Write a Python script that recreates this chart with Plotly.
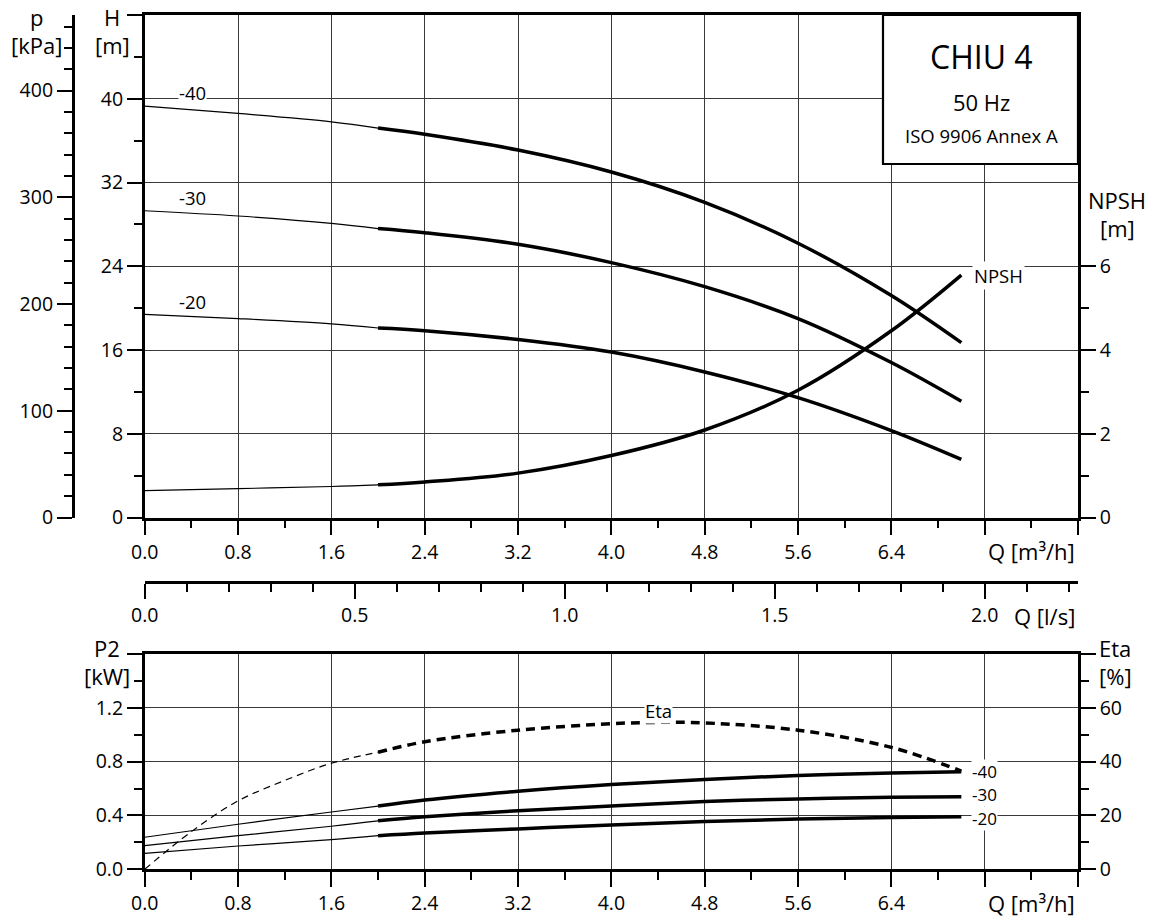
import plotly.graph_objects as go

# ---- pump data: CHIU 4, 50 Hz ----
q_h = [0.0, 0.8, 1.6, 2.0, 2.4, 3.2, 4.0, 4.8, 5.6, 6.4, 7.0]          # m3/h
h_40 = [39.3, 38.6, 37.8, 37.2, 36.6, 35.1, 33.0, 30.1, 26.2, 21.2, 16.7]
h_30 = [29.3, 28.8, 28.1, 27.6, 27.2, 26.1, 24.35, 22.05, 19.0, 14.8, 11.1]
h_20 = [19.4, 19.0, 18.5, 18.1, 17.85, 17.0, 15.8, 13.9, 11.45, 8.3, 5.55]
npsh = [0.64, 0.69, 0.74, 0.78, 0.85, 1.06, 1.48, 2.09, 3.04, 4.46, 5.79]

q_p = [0.0, 0.8, 1.6, 2.0, 2.4, 3.2, 4.0, 4.8, 5.6, 6.4, 7.0]
p2_40 = [0.238, 0.335, 0.426, 0.47, 0.515, 0.58, 0.63, 0.668, 0.698, 0.716, 0.725]
p2_30 = [0.176, 0.25, 0.32, 0.36, 0.39, 0.435, 0.47, 0.503, 0.523, 0.535, 0.54]
p2_20 = [0.119, 0.173, 0.22, 0.25, 0.27, 0.30, 0.33, 0.355, 0.373, 0.385, 0.39]

q_eta = [0.0, 0.4, 0.8, 1.2, 1.6, 2.0, 2.4, 3.2, 4.0, 4.4, 4.8, 5.6, 6.4, 7.0]
eta = [0.0, 14.0, 25.4, 33.0, 39.4, 43.5, 47.4, 51.7, 54.1, 54.6, 54.4, 51.7, 45.3, 36.5]

series_labels = ["-40", "-30", "-20"]
q_ticks = [0.0, 0.8, 1.6, 2.4, 3.2, 4.0, 4.8, 5.6, 6.4, 7.2, 8.0]
q_ticktext = ["0.0", "0.8", "1.6", "2.4", "3.2", "4.0", "4.8", "5.6", "6.4", "", ""]
h_ticks = [0, 8, 16, 24, 32, 40, 48]
p_ticks = [0, 100, 200, 300, 400]
npsh_ticks = [0, 2, 4, 6]
ls_ticks = [0.0, 0.5, 1.0, 1.5, 2.0]
p2_ticks = [0.0, 0.4, 0.8, 1.2, 1.6]
eta_ticks = [0, 20, 40, 60, 80]

Q_SPLIT = 2.0          # thin below, thick above (recommended range)
RHO_G = 9.81           # kPa per metre of head
M3H_PER_LS = 3.6
W, H = 1153, 922
TICK_FONT = 19.5
LABEL_FONT = 18.5
END_LABEL_FONT = 17
TITLE_FONT = 22

def px(x):
    return x / W

def py(y):
    return 1 - y / H

def split(q, v):
    lo = [(a, b) for a, b in zip(q, v) if a <= Q_SPLIT]
    hi = [(a, b) for a, b in zip(q, v) if a >= Q_SPLIT]
    return ([a for a, _ in lo], [b for _, b in lo]), ([a for a, _ in hi], [b for _, b in hi])

fig = go.Figure()

def add_curve(q, v, xa, ya, dashed=False):
    (x1, y1), (x2, y2) = split(q, v)
    fig.add_trace(go.Scatter(x=x1, y=y1, xaxis=xa, yaxis=ya, mode="lines",
                             line=dict(color="black", width=1.2, shape="spline",
                                       dash="7px,5px" if dashed else "solid"),
                             hoverinfo="skip"))
    fig.add_trace(go.Scatter(x=x2, y=y2, xaxis=xa, yaxis=ya, mode="lines",
                             line=dict(color="black", width=3.5, shape="spline",
                                       dash="9px,6px" if dashed else "solid"),
                             hoverinfo="skip"))

for h in (h_40, h_30, h_20):
    add_curve(q_h, h, "x", "y")
add_curve(q_h, npsh, "x", "y2")
for p in (p2_40, p2_30, p2_20):
    add_curve(q_p, p, "x2", "y4")
add_curve(q_eta, eta, "x2", "y5", dashed=True)

# head curve expressed as pressure vs l/s, carried on the secondary scales (transparent)
fig.add_trace(go.Scatter(x=[q / M3H_PER_LS for q in q_h], y=[h * RHO_G for h in h_40],
                         xaxis="x3", yaxis="y3", mode="lines", opacity=0,
                         line=dict(color="black", width=1), hoverinfo="skip"))

# ---- axes ----
TOP = [py(517.5), py(15)]
BOT = [py(869.3), py(654)]
XDOM = [px(144.7), px(1078)]
GRID = "#3a3a3a"

def axis(**kw):
    base = dict(showline=True, linecolor="black", linewidth=2.5, ticks="outside",
                tickcolor="black", tickwidth=2, ticklen=15, zeroline=False,
                automargin=False, showgrid=False,
                tickfont=dict(size=TICK_FONT, color="black"))
    base.update(kw)
    return base

def minor(**kw):
    base = dict(ticks="outside", ticklen=8, tickwidth=1.5, tickcolor="black",
                showgrid=False, tick0=0)
    base.update(kw)
    return base

q_axis = dict(range=[0, 8], tickmode="array", tickvals=q_ticks, ticktext=q_ticktext,
              showgrid=True, gridcolor=GRID, gridwidth=1, mirror=True,
              minor=minor(dtick=0.4), domain=XDOM)

fig.update_layout(
    width=W, height=H, margin=dict(l=0, r=0, t=0, b=0),
    plot_bgcolor="white", paper_bgcolor="white", showlegend=False,
    font=dict(family="Open Sans", size=TICK_FONT, color="black"),
    xaxis=axis(anchor="y", **q_axis),
    yaxis=axis(domain=TOP, anchor="x", range=[0, 48], tickmode="array", tickvals=h_ticks,
               ticktext=[str(t) for t in h_ticks[:-1]] + [""], showgrid=True,
               gridcolor=GRID, gridwidth=1, minor=minor(dtick=4)),
    yaxis2=axis(overlaying="y", anchor="x", side="right", range=[0, 12], tickmode="array",
                tickvals=npsh_ticks, minor=minor(tickmode="array", tickvals=[1, 3, 5])),
    yaxis3=axis(overlaying="y", anchor="free", position=px(72.7), side="left",
                range=[0, 48 * RHO_G], tickmode="array", tickvals=p_ticks,
                minor=minor(dtick=20)),
    xaxis3=axis(overlaying="x", anchor="free", position=py(582.3), side="bottom",
                range=[0, 8 / M3H_PER_LS], tickmode="array", tickvals=ls_ticks,
                ticktext=["0.0", "0.5", "1.0", "1.5", "2.0"], minor=minor(dtick=0.1)),
    xaxis2=axis(anchor="y4", **q_axis),
    yaxis4=axis(domain=BOT, anchor="x2", range=[0, 1.6], tickmode="array", tickvals=p2_ticks,
                ticktext=["0.0", "0.4", "0.8", "1.2", ""], showgrid=True,
                gridcolor=GRID, gridwidth=1, minor=minor(dtick=0.2)),
    yaxis5=axis(overlaying="y4", anchor="x2", side="right", range=[0, 80], tickmode="array",
                tickvals=eta_ticks, ticktext=["0", "20", "40", "60", ""],
                minor=minor(dtick=10)),
)

# ---- title box ----
fig.add_shape(type="rect", xref="paper", yref="paper", x0=px(883), x1=px(1078),
              y0=py(164), y1=py(15), fillcolor="white",
              line=dict(color="black", width=2.2), layer="above")

ann = []

def text(x, y, s, size=TITLE_FONT, xanchor="center"):
    ann.append(dict(x=px(x), y=py(y), xref="paper", yref="paper", text=s, showarrow=False,
                    xanchor=xanchor, yanchor="middle", font=dict(size=size, color="black")))

text(981, 56, "CHIU 4", size=32)
text(981, 102, "50 Hz", size=22)
text(981, 135, "ISO 9906 Annex A", size=18.5)

text(36, 17, "p")
text(36, 45, "[kPa]")
text(112, 17, "H")
text(112, 45, "[m]")
text(1117, 200, "NPSH")
text(1117, 228, "[m]")
text(1031, 551, "Q [m³/h]")
text(1044, 616, "Q [l/s]")
text(107, 648, "P2")
text(107, 676, "[kW]")
text(1115, 648, "Eta")
text(1115, 676, "[%]")
text(1031, 903, "Q [m³/h]")

def curve_label(x, y, s, xref, yref, xanchor="center", yshift=0, pad=0, size=LABEL_FONT):
    ann.append(dict(x=x, y=y, xref=xref, yref=yref, text=s, showarrow=False,
                    xanchor=xanchor, yanchor="middle", bgcolor="white", borderpad=pad,
                    yshift=yshift, font=dict(size=size, color="black")))

# head curve labels near shut-off
for lbl, h in zip(series_labels, (h_40, h_30, h_20)):
    curve_label(0.41, h[0] + 1.25, lbl, "x", "y")
curve_label(7.09, npsh[-1] * 4, "NPSH", "x", "y", xanchor="left", pad=1)

# power curve labels at the end of the curves
for lbl, p, shift in zip(series_labels, (p2_40, p2_30, p2_20), (0, 2, -2)):
    curve_label(7.08, p[-1], lbl, "x2", "y4", xanchor="left", yshift=shift,
                size=END_LABEL_FONT)
curve_label(4.4, max(eta) + 4.5, "Eta", "x2", "y5")

fig.update_layout(annotations=ann)
fig.write_html("out.html")
